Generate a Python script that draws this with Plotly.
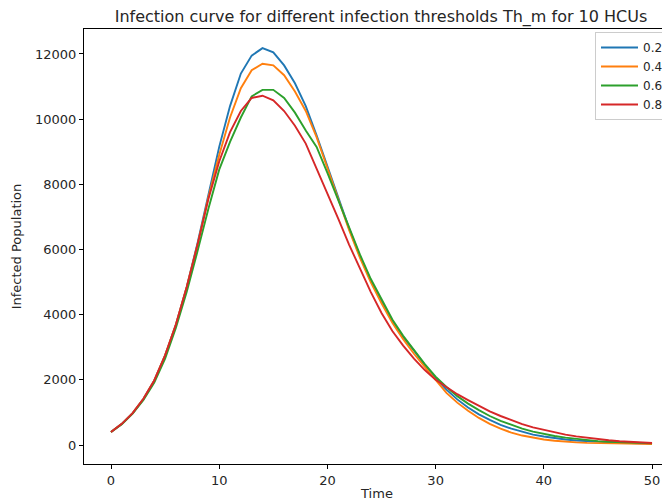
import plotly.graph_objects as go

time = list(range(51))
thresholds = ["0.2", "0.4", "0.6", "0.8"]
y_ticks = [0, 2000, 4000, 6000, 8000, 10000, 12000]
y_tick_labels = ["0", "2000", "4000", "6000", "8000", "10000", "12000"]
x_ticks = [0, 10, 20, 30, 40, 50]

infected_02 = [400, 650, 980, 1420, 1980, 2750, 3700, 4850, 6200, 7700,
               9150, 10400, 11400, 11950, 12180, 12050, 11650, 11100, 10400, 9500,
               8550, 7600, 6650, 5800, 5050, 4400, 3800, 3300, 2900, 2450,
               2050, 1700, 1400, 1150, 940, 770, 620, 500, 400, 320,
               260, 210, 170, 140, 115, 95, 80, 68, 58, 50, 44]
infected_04 = [400, 650, 980, 1420, 1980, 2750, 3700, 4850, 6150, 7600,
               8900, 10050, 10950, 11500, 11700, 11650, 11350, 10850, 10250, 9450,
               8500, 7550, 6600, 5750, 5000, 4350, 3750, 3250, 2800, 2400,
               2000, 1600, 1300, 1050, 830, 650, 500, 380, 290, 220,
               170, 130, 100, 80, 65, 55, 47, 42, 38, 35, 32]
infected_06 = [400, 640, 960, 1380, 1920, 2650, 3600, 4700, 5950, 7250,
               8450, 9300, 10050, 10700, 10900, 10900, 10650, 10200, 9650, 9150,
               8350, 7500, 6650, 5850, 5100, 4450, 3850, 3350, 2900, 2480,
               2100, 1780, 1500, 1270, 1070, 890, 740, 610, 500, 410,
               335, 275, 225, 185, 150, 120, 100, 82, 68, 58, 50]
infected_08 = [400, 650, 980, 1420, 1980, 2750, 3700, 4850, 6150, 7550,
               8700, 9600, 10250, 10650, 10720, 10580, 10250, 9800, 9250, 8500,
               7750, 6950, 6150, 5400, 4700, 4050, 3500, 3050, 2650, 2300,
               2000, 1780, 1560, 1380, 1200, 1030, 890, 760, 640, 540,
               460, 385, 320, 265, 220, 180, 145, 115, 90, 72, 60]

series = [infected_02, infected_04, infected_06, infected_08]
colors = ["#1f77b4", "#ff7f0e", "#2ca02c", "#d62728"]

fig = go.Figure()
for name, vals, col in zip(thresholds, series, colors):
    fig.add_trace(go.Scatter(x=time, y=vals, mode="lines", name=name,
                             line=dict(color=col, width=1.9)))

# the page places the figure 8px in from the top-left corner
off = 8
font = "DejaVu Sans"
fig.update_layout(
    width=670, height=502,
    margin=dict(l=84 - off, r=off, t=29 - off, b=38 + off, autoexpand=False),
    paper_bgcolor="white", plot_bgcolor="white",
    font=dict(family=font, size=13, color="#262626"),
    title=dict(text="Infection curve for different infection thresholds Th_m for 10 HCUs",
               x=(381 - off) / 670, xanchor="center", y=1 - (16 - off) / 502, yanchor="middle",
               font=dict(size=16, color="#262626")),
    showlegend=True,
    legend=dict(x=(595 - 84) / 586, xanchor="left", y=(464 - 32) / 435, yanchor="top",
                bgcolor="white", bordercolor="#cccccc", borderwidth=1,
                font=dict(size=12), itemwidth=37, tracegroupgap=0),
)
fig.update_xaxes(range=[-2.495, 51.66], tickvals=x_ticks,
                 showgrid=False, zeroline=False, showline=True, mirror=True,
                 linecolor="black", linewidth=1, ticks="outside", ticklen=4,
                 tickcolor="black", automargin=False,
                 title=dict(text="Time", standoff=2, font=dict(size=13)))
fig.update_yaxes(range=[-583, 12767], tickvals=y_ticks, ticktext=y_tick_labels,
                 showgrid=False, zeroline=False, showline=True, mirror=False,
                 linecolor="black", linewidth=1, ticks="outside", ticklen=4,
                 tickcolor="black", automargin=False,
                 title=dict(text="Infected Population", standoff=10, font=dict(size=13)))

fig.write_html("out.html")
